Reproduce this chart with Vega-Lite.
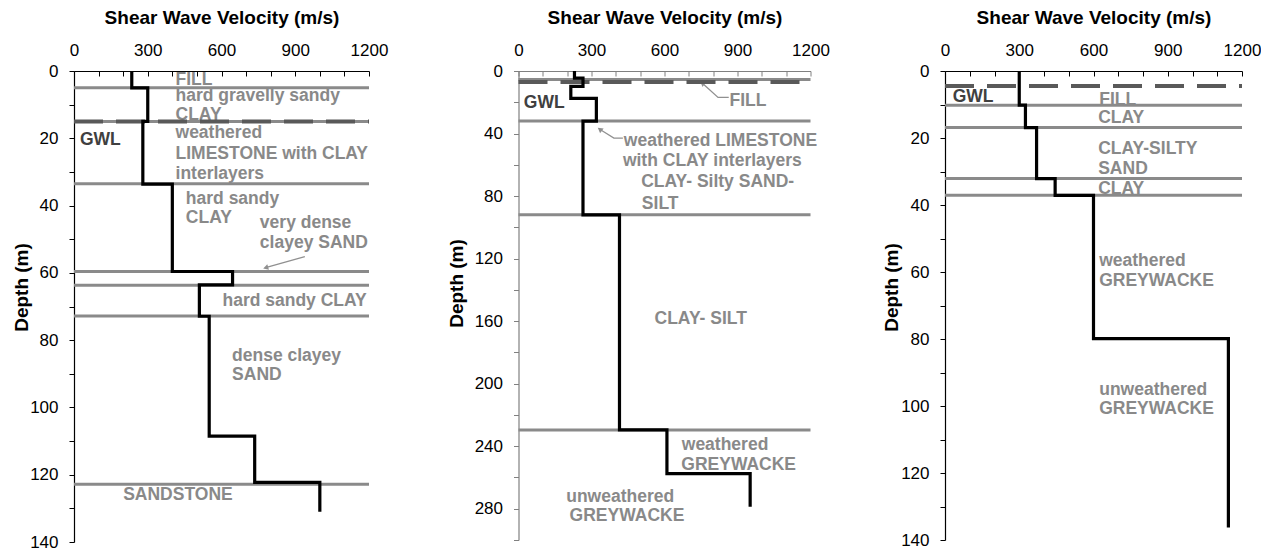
{
  "$schema": "https://vega.github.io/schema/vega-lite/v6.json",
  "padding": {"left": 12, "top": 8, "right": 0, "bottom": 0},
  "background": "white",
  "spacing": 52,
  "datasets": {
    "vs": [
      {"p": 1, "seq": 1, "v": 235, "d": 0}, {"p": 1, "seq": 2, "v": 300, "d": 5}, {"p": 1, "seq": 3, "v": 280, "d": 15},
      {"p": 1, "seq": 4, "v": 400, "d": 33.6}, {"p": 1, "seq": 5, "v": 645, "d": 59.6}, {"p": 1, "seq": 6, "v": 510, "d": 63.6},
      {"p": 1, "seq": 7, "v": 550, "d": 72.9}, {"p": 1, "seq": 8, "v": 735, "d": 108.5}, {"p": 1, "seq": 9, "v": 1000, "d": 122.3},
      {"p": 1, "seq": 10, "v": 1000, "d": 131},
      {"p": 2, "seq": 1, "v": 230, "d": 0}, {"p": 2, "seq": 2, "v": 265, "d": 4.5}, {"p": 2, "seq": 3, "v": 215, "d": 9.8},
      {"p": 2, "seq": 4, "v": 320, "d": 17.5}, {"p": 2, "seq": 5, "v": 265, "d": 32}, {"p": 2, "seq": 6, "v": 415, "d": 92},
      {"p": 2, "seq": 7, "v": 610, "d": 229.6}, {"p": 2, "seq": 8, "v": 952, "d": 257.6}, {"p": 2, "seq": 9, "v": 952, "d": 278.7},
      {"p": 3, "seq": 1, "v": 300, "d": 0}, {"p": 3, "seq": 2, "v": 325, "d": 10.2}, {"p": 3, "seq": 3, "v": 370, "d": 16.9},
      {"p": 3, "seq": 4, "v": 445, "d": 32.1}, {"p": 3, "seq": 5, "v": 600, "d": 37.1}, {"p": 3, "seq": 6, "v": 1145, "d": 79.9},
      {"p": 3, "seq": 7, "v": 1145, "d": 136.3}
    ],
    "bounds": [
      {"p": 1, "v": 0, "v2": 1200, "d": 5}, {"p": 1, "v": 0, "v2": 1200, "d": 15}, {"p": 1, "v": 0, "v2": 1200, "d": 33.5},
      {"p": 1, "v": 0, "v2": 1200, "d": 59.6}, {"p": 1, "v": 0, "v2": 1200, "d": 63.7}, {"p": 1, "v": 0, "v2": 1200, "d": 72.8},
      {"p": 1, "v": 0, "v2": 1200, "d": 122.8},
      {"p": 2, "v": 0, "v2": 1200, "d": 5.5}, {"p": 2, "v": 0, "v2": 1200, "d": 32}, {"p": 2, "v": 0, "v2": 1200, "d": 92},
      {"p": 2, "v": 0, "v2": 1200, "d": 229.6},
      {"p": 3, "v": 0, "v2": 1200, "d": 10.2}, {"p": 3, "v": 0, "v2": 1200, "d": 16.9}, {"p": 3, "v": 0, "v2": 1200, "d": 32.1},
      {"p": 3, "v": 0, "v2": 1200, "d": 37.1}
    ],
    "gwl": [
      {"p": 1, "v": 0, "v2": 1200, "d": 15},
      {"p": 2, "v": 0, "v2": 1200, "d": 7},
      {"p": 3, "v": 0, "v2": 1200, "d": 4.5}
    ],
    "labels": [
      {"p": 1, "kind": "soil", "v": 413, "d": 2.7, "t": "FILL"},
      {"p": 1, "kind": "soil", "v": 413, "d": 7.4, "t": "hard gravelly sandy"},
      {"p": 1, "kind": "soil", "v": 413, "d": 13.1, "t": "CLAY"},
      {"p": 1, "kind": "soil", "v": 413, "d": 18.5, "t": "weathered"},
      {"p": 1, "kind": "soil", "v": 413, "d": 24.7, "t": "LIMESTONE with CLAY"},
      {"p": 1, "kind": "soil", "v": 413, "d": 30.6, "t": "interlayers"},
      {"p": 1, "kind": "soil", "v": 455, "d": 37.9, "t": "hard sandy"},
      {"p": 1, "kind": "soil", "v": 455, "d": 43.8, "t": "CLAY"},
      {"p": 1, "kind": "soil", "v": 756, "d": 45.3, "t": "very dense"},
      {"p": 1, "kind": "soil", "v": 756, "d": 51.1, "t": "clayey SAND"},
      {"p": 1, "kind": "soil", "v": 604, "d": 68.3, "t": "hard sandy CLAY"},
      {"p": 1, "kind": "soil", "v": 643, "d": 84.8, "t": "dense clayey"},
      {"p": 1, "kind": "soil", "v": 643, "d": 90.4, "t": "SAND"},
      {"p": 1, "kind": "soil", "v": 200, "d": 126.1, "t": "SANDSTONE"},
      {"p": 1, "kind": "gwl", "v": 24, "d": 20.5, "t": "GWL"},
      {"p": 2, "kind": "gwl", "v": 22, "d": 20.3, "t": "GWL"},
      {"p": 2, "kind": "soil", "v": 867, "d": 19.5, "t": "FILL"},
      {"p": 2, "kind": "soil", "v": 433, "d": 44.5, "t": "weathered LIMESTONE"},
      {"p": 2, "kind": "soil", "v": 429, "d": 57.7, "t": "with CLAY interlayers"},
      {"p": 2, "kind": "soil", "v": 504, "d": 70.7, "t": "CLAY- Silty SAND-"},
      {"p": 2, "kind": "soil", "v": 507, "d": 85, "t": "SILT"},
      {"p": 2, "kind": "soil", "v": 559, "d": 158.7, "t": "CLAY- SILT"},
      {"p": 2, "kind": "soil", "v": 671, "d": 239.4, "t": "weathered"},
      {"p": 2, "kind": "soil", "v": 669, "d": 252, "t": "GREYWACKE"},
      {"p": 2, "kind": "soil", "v": 196, "d": 272.3, "t": "unweathered"},
      {"p": 2, "kind": "soil", "v": 210, "d": 284.7, "t": "GREYWACKE"},
      {"p": 3, "kind": "gwl", "v": 31, "d": 7.9, "t": "GWL"},
      {"p": 3, "kind": "soil", "v": 623, "d": 8.7, "t": "FILL"},
      {"p": 3, "kind": "soil", "v": 619, "d": 13.9, "t": "CLAY"},
      {"p": 3, "kind": "soil", "v": 619, "d": 23.2, "t": "CLAY-SILTY"},
      {"p": 3, "kind": "soil", "v": 619, "d": 29.3, "t": "SAND"},
      {"p": 3, "kind": "soil", "v": 619, "d": 35.2, "t": "CLAY"},
      {"p": 3, "kind": "soil", "v": 623, "d": 56.7, "t": "weathered"},
      {"p": 3, "kind": "soil", "v": 623, "d": 62.7, "t": "GREYWACKE"},
      {"p": 3, "kind": "soil", "v": 623, "d": 95.2, "t": "unweathered"},
      {"p": 3, "kind": "soil", "v": 623, "d": 101, "t": "GREYWACKE"}
    ],
    "arrows": [
      {"p": 1, "id": "a1", "seq": 1, "v": 939, "d": 55.2}, {"p": 1, "id": "a1", "seq": 2, "v": 783, "d": 58.4},
      {"p": 2, "id": "a2", "seq": 1, "v": 864, "d": 16.9}, {"p": 2, "id": "a2", "seq": 2, "v": 820, "d": 16.9}, {"p": 2, "id": "a2", "seq": 3, "v": 758, "d": 8.1},
      {"p": 2, "id": "a3", "seq": 1, "v": 429, "d": 42.9}, {"p": 2, "id": "a3", "seq": 2, "v": 392, "d": 42.9}, {"p": 2, "id": "a3", "seq": 3, "v": 337, "d": 37.6}
    ],
    "heads": [
      {"p": 1, "v": 783, "d": 58.4},
      {"p": 2, "v": 758, "d": 8.1},
      {"p": 2, "v": 337, "d": 37.6}
    ]
  },
  "hconcat": [
    {
      "spacing": 59.5,
      "hconcat": [
        {
          "width": 295, "height": 471,
          "encoding": {
            "x": {"field": "v", "type": "quantitative", "scale": {"domain": [0, 1200], "nice": false, "zero": false},
                  "axis": {"orient": "top", "title": "Shear Wave Velocity  (m/s)", "values": [0,100,200,300,400,500,600,700,800,900,1000,1100,1200], "format": "d",
                           "labelExpr": "datum.value % 300 === 0 ? datum.label : ''", "tickSize": -5, "labelPadding": 17, "titlePadding": 13.7}},
            "y": {"field": "d", "type": "quantitative", "scale": {"domain": [0, 140], "reverse": true, "nice": false, "zero": false},
                  "axis": {"title": "Depth (m)", "values": [0,10,20,30,40,50,60,70,80,90,100,110,120,130,140], "format": "d",
                           "labelExpr": "datum.value % 20 === 0 ? datum.label : ''", "tickSize": 5, "labelPadding": 11, "titleX": -43, "titleY": 216}}
          },
          "layer": [
            {"data": {"name": "labels"}, "transform": [{"filter": "datum.p === 1"}],
             "mark": {"type": "text", "align": "left", "baseline": "middle", "fontSize": 17.5, "fontWeight": "bold", "font": "Liberation Sans"},
             "encoding": {"text": {"field": "t"}, "color": {"field": "kind", "type": "nominal", "scale": {"domain": ["soil", "gwl"], "range": ["#898989", "#404040"]}, "legend": null}}},
            {"data": {"name": "arrows"}, "transform": [{"filter": "datum.p === 1"}],
             "mark": {"type": "line", "color": "#909090", "strokeWidth": 1.3},
             "encoding": {"detail": {"field": "id"}, "order": {"field": "seq", "type": "quantitative"}}},
            {"data": {"name": "heads"}, "transform": [{"filter": "datum.p === 1"}],
             "mark": {"type": "point", "shape": "triangle", "filled": true, "color": "#909090", "size": 35, "angle": 254, "opacity": 1}},
            {"data": {"name": "bounds"}, "transform": [{"filter": "datum.p === 1"}],
             "mark": {"type": "rule", "color": "#8a8a8a", "strokeWidth": 3},
             "encoding": {"x2": {"field": "v2"}}},
            {"data": {"name": "gwl"}, "transform": [{"filter": "datum.p === 1"}],
             "mark": {"type": "rule", "color": "#595959", "strokeWidth": 4, "strokeDash": [29, 13]},
             "encoding": {"x2": {"field": "v2"}}},
            {"data": {"name": "vs"}, "transform": [{"filter": "datum.p === 1"}],
             "mark": {"type": "line", "color": "#000000", "strokeWidth": 3.2, "interpolate": "step-before"},
             "encoding": {"order": {"field": "seq", "type": "quantitative"}}}
          ]
        },
        {
          "width": 292, "height": 469,
          "encoding": {
            "x": {"field": "v", "type": "quantitative", "scale": {"domain": [0, 1200], "nice": false, "zero": false},
                  "axis": {"orient": "top", "title": "Shear Wave Velocity  (m/s)", "values": [0,100,200,300,400,500,600,700,800,900,1000,1100,1200], "format": "d",
                           "labelExpr": "datum.value % 300 === 0 ? datum.label : ''", "tickSize": -5, "labelPadding": 17, "titlePadding": 13.7,
                           "domainColor": "#808080", "tickColor": "#808080"}},
            "y": {"field": "d", "type": "quantitative", "scale": {"domain": [0, 300], "reverse": true, "nice": false, "zero": false},
                  "axis": {"title": "Depth (m)", "values": [0,20,40,60,80,100,120,140,160,180,200,220,240,260,280,300], "format": "d",
                           "labelExpr": "datum.value % 40 === 0 && datum.value < 300 ? datum.label : ''", "tickSize": 5, "labelPadding": 11, "titleX": -52, "titleY": 212,
                           "domainColor": "#808080", "tickColor": "#808080"}}
          },
          "layer": [
            {"data": {"name": "labels"}, "transform": [{"filter": "datum.p === 2"}],
             "mark": {"type": "text", "align": "left", "baseline": "middle", "fontSize": 17.5, "fontWeight": "bold", "font": "Liberation Sans"},
             "encoding": {"text": {"field": "t"}, "color": {"field": "kind", "type": "nominal", "scale": {"domain": ["soil", "gwl"], "range": ["#898989", "#404040"]}, "legend": null}}},
            {"data": {"name": "arrows"}, "transform": [{"filter": "datum.p === 2"}],
             "mark": {"type": "line", "color": "#909090", "strokeWidth": 1.3},
             "encoding": {"detail": {"field": "id"}, "order": {"field": "seq", "type": "quantitative"}}},
            {"data": {"name": "heads"}, "transform": [{"filter": "datum.p === 2"}],
             "mark": {"type": "point", "shape": "triangle", "filled": true, "color": "#909090", "size": 35, "angle": 307, "opacity": 1}},
            {"data": {"name": "bounds"}, "transform": [{"filter": "datum.p === 2"}],
             "mark": {"type": "rule", "color": "#8a8a8a", "strokeWidth": 3},
             "encoding": {"x2": {"field": "v2"}}},
            {"data": {"name": "gwl"}, "transform": [{"filter": "datum.p === 2"}],
             "mark": {"type": "rule", "color": "#595959", "strokeWidth": 4, "strokeDash": [29, 13]},
             "encoding": {"x2": {"field": "v2"}}},
            {"data": {"name": "vs"}, "transform": [{"filter": "datum.p === 2"}],
             "mark": {"type": "line", "color": "#000000", "strokeWidth": 3.2, "interpolate": "step-before"},
             "encoding": {"order": {"field": "seq", "type": "quantitative"}}}
          ]
        }
      ]
    },
    {
      "width": 297, "height": 469,
      "encoding": {
        "x": {"field": "v", "type": "quantitative", "scale": {"domain": [0, 1200], "nice": false, "zero": false},
              "axis": {"orient": "top", "title": "Shear Wave Velocity  (m/s)", "values": [0,100,200,300,400,500,600,700,800,900,1000,1100,1200], "format": "d",
                       "labelExpr": "datum.value % 300 === 0 ? datum.label : ''", "tickSize": -5, "labelPadding": 17, "titlePadding": 13.7}},
        "y": {"field": "d", "type": "quantitative", "scale": {"domain": [0, 140], "reverse": true, "nice": false, "zero": false},
              "axis": {"title": "Depth (m)", "values": [0,10,20,30,40,50,60,70,80,90,100,110,120,130,140], "format": "d",
                       "labelExpr": "datum.value % 20 === 0 ? datum.label : ''", "tickSize": 5, "labelPadding": 11, "titleX": -44, "titleY": 216}}
      },
      "layer": [
        {"data": {"name": "labels"}, "transform": [{"filter": "datum.p === 3"}],
         "mark": {"type": "text", "align": "left", "baseline": "middle", "fontSize": 17.5, "fontWeight": "bold", "font": "Liberation Sans"},
         "encoding": {"text": {"field": "t"}, "color": {"field": "kind", "type": "nominal", "scale": {"domain": ["soil", "gwl"], "range": ["#898989", "#404040"]}, "legend": null}}},
        {"data": {"name": "bounds"}, "transform": [{"filter": "datum.p === 3"}],
         "mark": {"type": "rule", "color": "#8a8a8a", "strokeWidth": 3},
         "encoding": {"x2": {"field": "v2"}}},
        {"data": {"name": "gwl"}, "transform": [{"filter": "datum.p === 3"}],
         "mark": {"type": "rule", "color": "#595959", "strokeWidth": 4, "strokeDash": [29, 13]},
         "encoding": {"x2": {"field": "v2"}}},
        {"data": {"name": "vs"}, "transform": [{"filter": "datum.p === 3"}],
         "mark": {"type": "line", "color": "#000000", "strokeWidth": 3.2, "interpolate": "step-before"},
         "encoding": {"order": {"field": "seq", "type": "quantitative"}}}
      ]
    }
  ],
  "resolve": {"scale": {"color": "independent"}},
  "config": {
    "view": {"stroke": null},
    "font": "Liberation Sans",
    "axis": {
      "grid": false, "labelFont": "Liberation Sans", "labelFontSize": 17, "labelColor": "#000000",
      "titleFont": "Liberation Sans", "titleFontSize": 19, "titleFontWeight": "bold", "titleColor": "#000000",
      "domainColor": "#000000", "tickColor": "#000000", "domainWidth": 1.2, "labelFlush": false, "labelOverlap": false
    }
  }
}
